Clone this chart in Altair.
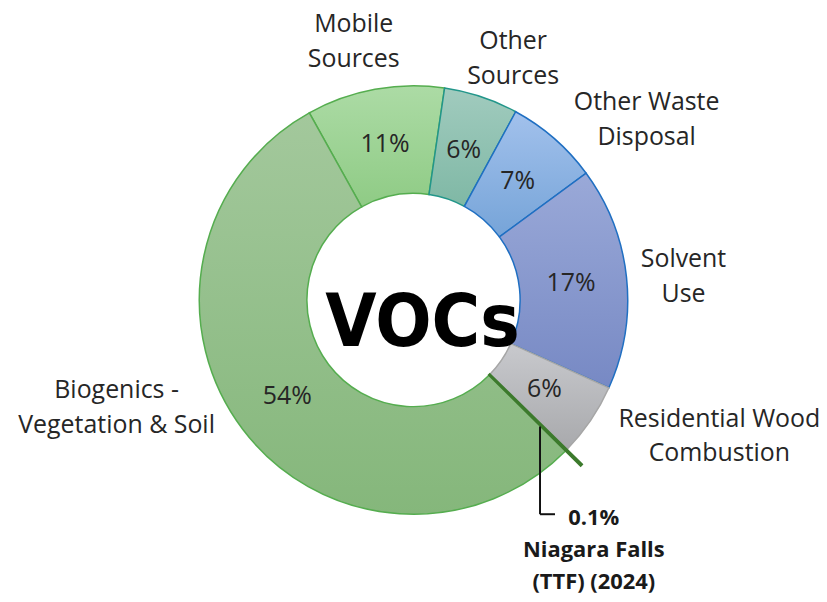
import math
import altair as alt
import pandas as pd

# ---- data ----
categories = [
    "Mobile Sources",
    "Other Sources",
    "Other Waste Disposal",
    "Solvent Use",
    "Residential Wood Combustion",
    "Niagara Falls (TTF) (2024)",
    "Biogenics - Vegetation & Soil",
]
shares = [10.4, 5.6, 7.0, 16.8, 5.6, 0.1, 54.5]
pct_labels = ["11%", "6%", "7%", "17%", "6%", "0.1%", "54%"]
name_labels = [
    "Mobile\nSources",
    "Other\nSources",
    "Other Waste\nDisposal",
    "Solvent\nUse",
    "Residential Wood\nCombustion",
    "Niagara Falls\n(TTF) (2024)",
    "Biogenics -\nVegetation & Soil",
]

# ---- styles / layout ----
top_colors = ["#acdba5", "#a1cbbe", "#a2c1ec", "#9aa9d8", "#c8c9cd", "#3c7a2c", "#a3c89c"]
bottom_colors = ["#8fcb85", "#7fb8a5", "#76a4d8", "#7789c4", "#a8a9ac", "#3c7a2c", "#85b77b"]
stroke_colors = ["#55ad4f", "#22968a", "#1f6fc2", "#1f6fc2", "#a6a6a6", "#3c7a2c", "#55ad4f"]
# label anchor points (page px, first-line baseline), converted to plot coords below
label_x = [355, 515, 649, 686, 722, 596, 117]
label_y = [31, 48, 109, 267, 427, 526, 398]

W, H = 814, 584
OFF = 8
start_deg = -29.1
a0 = math.radians(start_deg)
R_IN, R_OUT = 107, 215

ends, acc = [], 0.0
for s in shares:
    acc += s
    ends.append(acc)
starts = [e - s for e, s in zip(ends, shares)]
mids = [(a + b) / 2 for a, b in zip(starts, ends)]

df = pd.DataFrame({
    "category": categories,
    "share": shares,
    "start": starts,
    "end": ends,
    "mid": mids,
    "pct": pct_labels,
})

theta_scale = alt.Scale(domain=[0, 100], range=[a0, a0 + 2 * math.pi])
base = alt.Chart(df)

layers = []
for i, cat in enumerate(categories):
    if cat.startswith("Niagara"):
        continue
    grad = {
        "gradient": "linear",
        "x1": 0, "y1": 0, "x2": 0, "y2": 1,
        "stops": [
            {"offset": 0, "color": top_colors[i]},
            {"offset": 1, "color": bottom_colors[i]},
        ],
    }
    layers.append(
        base.transform_filter(alt.FieldEqualPredicate(field="category", equal=cat))
        .mark_arc(innerRadius=R_IN, outerRadius=R_OUT, fill=grad,
                  stroke=stroke_colors[i], strokeWidth=1.5)
        .encode(theta=alt.Theta("start:Q", scale=theta_scale), theta2="end:Q")
    )

# tiny Niagara Falls slice drawn as a protruding dark-green sliver
nia = categories[5]
layers.append(
    base.transform_filter(alt.FieldEqualPredicate(field="category", equal=nia))
    .mark_arc(innerRadius=R_IN, outerRadius=R_OUT + 21, fill=top_colors[5],
              stroke=stroke_colors[5], strokeWidth=2.5)
    .encode(theta=alt.Theta("start:Q", scale=theta_scale), theta2="end:Q")
)

# percentage labels inside the ring
layers.append(
    base.transform_filter(alt.FieldOneOfPredicate(field="category",
                                                  oneOf=[c for c in categories if c != nia]))
    .mark_text(radius=159, fontSize=25, font="Open Sans", color="#262626",
               baseline="middle", align="center")
    .encode(theta=alt.Theta("mid:Q", scale=theta_scale), text="pct:N")
)

# category labels outside the ring
lab_df = pd.DataFrame({
    "label": [n for n, c in zip(name_labels, categories) if c != nia],
    "lx": [x - OFF for x, c in zip(label_x, categories) if c != nia],
    "ly": [y - OFF for y, c in zip(label_y, categories) if c != nia],
})
layers.append(
    alt.Chart(lab_df).mark_text(fontSize=25, font="Open Sans", color="#262626",
                                align="center", baseline="alphabetic",
                                lineBreak="\n", lineHeight=35)
    .encode(x=alt.X("lx:Q", scale=None, axis=None),
            y=alt.Y("ly:Q", scale=None, axis=None),
            text="label:N")
)

# Niagara Falls call-out
nia_df = pd.DataFrame({
    "label": [pct_labels[5] + "\n" + name_labels[5]],
    "lx": [label_x[5] - OFF],
    "ly": [label_y[5] - OFF],
})
layers.append(
    alt.Chart(nia_df).mark_text(fontSize=22, font="Open Sans", fontWeight="bold",
                                color="#1a1a1a", align="center", baseline="alphabetic",
                                lineBreak="\n", lineHeight=32)
    .encode(x=alt.X("lx:Q", scale=None, axis=None),
            y=alt.Y("ly:Q", scale=None, axis=None),
            text="label:N")
)

one = alt.Chart(pd.DataFrame({"a": [0]}))
layers.append(
    one.mark_rule(color="#111111", strokeWidth=2)
    .encode(x=alt.value(542 - OFF), y=alt.value(427 - OFF), y2=alt.value(515 - OFF))
)
layers.append(
    one.mark_rule(color="#111111", strokeWidth=2)
    .encode(x=alt.value(542 - OFF), x2=alt.value(557 - OFF), y=alt.value(515 - OFF))
)

# centre title
layers.append(
    alt.Chart(pd.DataFrame({"t": ["VOCs"]}))
    .mark_text(fontSize=74, fontWeight="bold",
               font="Liberation Sans Narrow, DejaVu Sans Condensed, Roboto Condensed, sans-serif",
               color="#000000", align="center", baseline="alphabetic")
    .encode(x=alt.value(424 - OFF), y=alt.value(346 - OFF), text="t:N")
)

chart = (
    alt.layer(*layers)
    .properties(width=W, height=H,
                padding={"top": 0, "left": 0, "right": 0, "bottom": 6},
                autosize=alt.AutoSizeParams(type="none"))
    .configure_view(strokeWidth=0)
)

chart.save("out.html", embed_options={"renderer": "svg", "actions": False})
